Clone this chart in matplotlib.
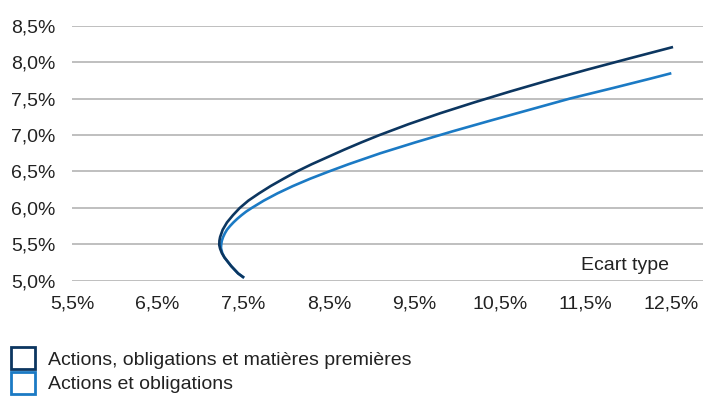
import matplotlib.pyplot as plt
from matplotlib.patches import Patch
from matplotlib.ticker import FuncFormatter

plt.rcParams['font.family'] = ['Liberation Sans', 'DejaVu Sans']

# Efficient frontier points (std dev %, return %)
dark_sd = [7.51, 7.44, 7.40, 7.36, 7.32, 7.28, 7.25, 7.23, 7.22,
           7.222, 7.23, 7.245, 7.26, 7.285, 7.31, 7.345, 7.38, 7.42, 7.46,
           7.56, 7.685, 7.82, 7.97, 8.125, 8.30, 8.49, 8.68, 8.88, 9.09,
           9.43, 9.80, 10.20, 10.62, 11.06, 11.52, 12.00, 12.52]
dark_ret = [5.04, 5.10, 5.15, 5.20, 5.26, 5.32, 5.38, 5.44, 5.49,
            5.55, 5.60, 5.65, 5.70, 5.75, 5.80, 5.85, 5.90, 5.95, 6.00,
            6.10, 6.20, 6.30, 6.40, 6.50, 6.60, 6.70, 6.80, 6.90, 7.00,
            7.15, 7.30, 7.45, 7.60, 7.75, 7.90, 8.05, 8.21]

blue_sd = [7.51, 7.44, 7.40, 7.36, 7.32, 7.28, 7.255, 7.24,
           7.243, 7.25, 7.265, 7.285, 7.31, 7.345, 7.385, 7.43, 7.48, 7.535, 7.60,
           7.74, 7.90, 8.08, 8.28, 8.50, 8.73, 9.10, 9.51, 9.94,
           10.39, 10.85, 11.31, 11.83, 12.27, 12.50]
blue_ret = [5.04, 5.10, 5.15, 5.20, 5.26, 5.32, 5.38, 5.45,
            5.50, 5.55, 5.60, 5.65, 5.70, 5.75, 5.80, 5.85, 5.90, 5.95, 6.00,
            6.10, 6.20, 6.30, 6.40, 6.50, 6.60, 6.75, 6.90, 7.05,
            7.20, 7.35, 7.50, 7.65, 7.78, 7.85]

labels = ['Actions, obligations et matières premières', 'Actions et obligations']
colors = ['#0c3660', '#1b7ac4']

x_ticks = [5.5, 6.5, 7.5, 8.5, 9.5, 10.5, 11.5, 12.5]
y_ticks = [5.0, 5.5, 6.0, 6.5, 7.0, 7.5, 8.0, 8.5]

fig = plt.figure(figsize=(7.04, 4.01), dpi=100)
ax = fig.add_axes([72/704, 1 - 280.7/401, 631/704, 254.8/401])

ax.plot(blue_sd, blue_ret, color=colors[1], lw=1.9, solid_capstyle='butt')
ax.plot(dark_sd, dark_ret, color=colors[0], lw=1.9, solid_capstyle='butt')

ax.set_xlim(5.5, 12.87)
ax.set_ylim(5.0, 8.5)
ax.set_xticks(x_ticks)
ax.set_yticks(y_ticks)
fmt = FuncFormatter(lambda v, p: f'{v:.1f}%'.replace('.', ','))
ax.xaxis.set_major_formatter(fmt)
ax.yaxis.set_major_formatter(fmt)
ax.tick_params(length=0, labelsize=14, colors='#222222')
ax.tick_params(axis='x', pad=11)
ax.tick_params(axis='y', pad=12)
ax.grid(axis='y', color='#b4b4b4', lw=1.2)
ax.set_axisbelow(True)
for s in ax.spines.values():
    s.set_visible(False)

ax.text(0.946, 0.058, 'Ecart type', transform=ax.transAxes, ha='right',
        va='center', fontsize=14, color='#222222')

handles = [Patch(facecolor='white', edgecolor=c, lw=2) for c in colors]
fig.legend(handles, labels, loc='upper left', bbox_to_anchor=(0.016, 0.135),
           frameon=False, fontsize=14, handlelength=1.2, handleheight=1.4,
           handletextpad=0.7, labelspacing=0.12, borderaxespad=0, borderpad=0,
           labelcolor='#222222')

fig.savefig('out.png', dpi=100)
